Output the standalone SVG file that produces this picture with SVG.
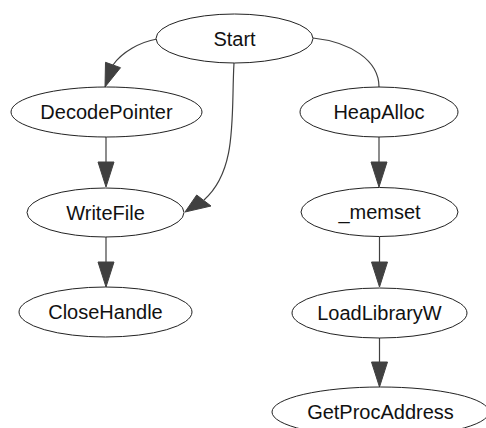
<svg xmlns="http://www.w3.org/2000/svg" width="486" height="428" viewBox="0 0 486 428">
<style>
.node ellipse{fill:#fff;stroke:#222;stroke-width:1}
.node text{font-family:"Liberation Sans",Arial,sans-serif;font-size:20px;fill:#111;text-anchor:middle}
.edge path{fill:none;stroke:#404040;stroke-width:1.2}
.edge polygon{fill:#404040;stroke:#404040;stroke-width:1}
</style>
<rect width="486" height="428" fill="#fff"/>
<g id="edges" class="edge">
<path d="M157,39 C140,42 122,52 113,65"/>
<polygon points="105.5,62.3 120.5,67.7 105,87"/>
<path d="M234,63 C231,115 238,170 204,200"/>
<polygon points="196.7,195 211,206 185,212"/>
<path d="M313,38 C350,42 379,60 379,87"/>
<path d="M106,137 L106,163"/>
<polygon points="98,162 114,162 106,187"/>
<path d="M106,237 L106,263"/>
<polygon points="98,262 114,262 106,287"/>
<path d="M379,137 L379,163"/>
<polygon points="371,162 387,162 379,187"/>
<path d="M379.5,237 L379.5,263"/>
<polygon points="371.5,262 387.5,262 379.5,287"/>
<path d="M379.5,338 L379.5,363"/>
<polygon points="371.5,362 387.5,362 379.5,387"/>
</g>
<g id="Start" class="node"><ellipse cx="234.5" cy="38.5" rx="78.5" ry="24.5"/><text x="234.5" y="45.5">Start</text></g>
<g id="DecodePointer" class="node"><ellipse cx="106.5" cy="112" rx="95.5" ry="25"/><text x="106.5" y="119">DecodePointer</text></g>
<g id="HeapAlloc" class="node"><ellipse cx="379" cy="112" rx="79" ry="25"/><text x="379" y="119">HeapAlloc</text></g>
<g id="WriteFile" class="node"><ellipse cx="105.5" cy="212.5" rx="78.5" ry="24.5"/><text x="105.5" y="219.5">WriteFile</text></g>
<g id="_memset" class="node"><ellipse cx="379.5" cy="212" rx="78.5" ry="24.5"/><text x="379.5" y="219">_memset</text></g>
<g id="CloseHandle" class="node"><ellipse cx="105.5" cy="312" rx="86.5" ry="25"/><text x="105.5" y="319">CloseHandle</text></g>
<g id="LoadLibraryW" class="node"><ellipse cx="379.5" cy="313" rx="87.5" ry="25"/><text x="379.5" y="320">LoadLibraryW</text></g>
<g id="GetProcAddress" class="node"><ellipse cx="380.5" cy="412" rx="108.5" ry="25"/><text x="380.5" y="419">GetProcAddress</text></g>
</svg>
